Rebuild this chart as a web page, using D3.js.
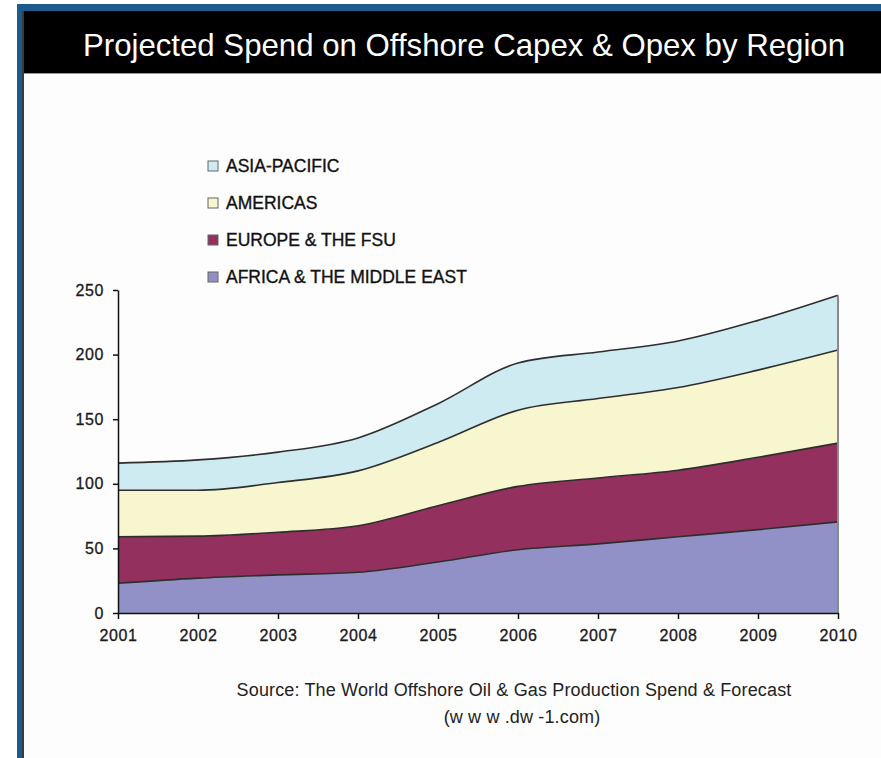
<!DOCTYPE html>
<html>
<head>
<meta charset="utf-8">
<script src="https://cdn.jsdelivr.net/npm/d3@7"></script>
<style>
  html, body { margin: 0; padding: 0; background: #ffffff; }
  svg { display: block; }
</style>
</head>
<body>
<div id="chart"></div>
<script>
// Years on the horizontal axis
const years = [2001, 2002, 2003, 2004, 2005, 2006, 2007, 2008, 2009, 2010];

// Spend per region (stacked bottom to top)
const africaMiddleEast = [23, 27, 29.5, 31.5, 39.5, 49, 53.5, 59, 64.5, 70.5];
const europeFsu        = [36, 32.5, 33, 36, 43.5, 49, 51, 51.5, 56, 61];
const americas         = [36, 35.5, 38.5, 42.5, 49, 59, 61.5, 64, 67.5, 72];
const asiaPacific      = [21, 23.5, 23.5, 25.5, 30, 36.5, 36, 36, 38.5, 42.5];

const seriesNames  = ["AFRICA & THE MIDDLE EAST", "EUROPE & THE FSU", "AMERICAS", "ASIA-PACIFIC"];
const seriesValues = [africaMiddleEast, europeFsu, americas, asiaPacific];
const seriesColors = ["#9191c7", "#93305d", "#f8f6cf", "#cdebf1"];

const yTicks = [0, 50, 100, 150, 200, 250];

const titleText   = "Projected Spend on Offshore Capex & Opex by Region";
const sourceLine1 = "Source: The World Offshore Oil & Gas Production Spend & Forecast";
const sourceLine2 = "(w w w .dw -1.com)";

const W = 881, H = 758;
const svg = d3.select("#chart").append("svg").attr("width", W).attr("height", H);

// Frame: blue border, black title band, white panel
svg.append("rect").attr("x", 17).attr("y", 4).attr("width", W - 17).attr("height", H - 4).attr("fill", "#1d5b8c");
svg.append("rect").attr("x", 22).attr("y", 11).attr("width", W - 22).attr("height", H - 11).attr("fill", "#3a3a3a");
svg.append("rect").attr("x", 24).attr("y", 11).attr("width", W - 24).attr("height", 62).attr("fill", "#000000");
svg.append("rect").attr("x", 24).attr("y", 73).attr("width", W - 24).attr("height", 1).attr("fill", "#9a9a9a");
svg.append("rect").attr("x", 24).attr("y", 74).attr("width", W - 24).attr("height", H - 74).attr("fill", "#fdfdfd");

svg.append("text")
  .attr("x", 83).attr("y", 56)
  .attr("fill", "#ffffff")
  .style("font-family", "'Liberation Sans', Arial, sans-serif")
  .style("font-size", "32px")
  .attr("textLength", 762)
  .attr("lengthAdjust", "spacingAndGlyphs")
  .text(titleText);

// Plot scales
const x = d3.scaleLinear().domain([2001, 2010]).range([118, 838]);
const y = d3.scaleLinear().domain([0, 250]).range([613, 290]);

const table = years.map((yr, i) => {
  const row = { year: yr };
  seriesNames.forEach((n, k) => { row[n] = seriesValues[k][i]; });
  return row;
});
const stacked = d3.stack().keys(seriesNames)(table);

const curve = d3.curveMonotoneX;
const area = d3.area()
  .x(d => x(d.data.year))
  .y0(d => y(d[0]))
  .y1(d => y(d[1]))
  .curve(curve);
const topLine = d3.line()
  .x(d => x(d.data.year))
  .y(d => y(d[1]))
  .curve(curve);

const plot = svg.append("g");
plot.selectAll("path.layer").data(stacked).join("path")
  .attr("class", "layer")
  .attr("d", area)
  .attr("fill", (d, i) => seriesColors[i]);

plot.selectAll("path.edge").data(stacked).join("path")
  .attr("class", "edge")
  .attr("d", topLine)
  .attr("fill", "none")
  .attr("stroke", "#2e2e2e")
  .attr("stroke-width", 1.6);

// Right-hand edge of the stack
const last = stacked[stacked.length - 1][years.length - 1];
plot.append("line")
  .attr("x1", x(2010)).attr("x2", x(2010))
  .attr("y1", y(last[1])).attr("y2", y(0))
  .attr("stroke", "#8a8a8a").attr("stroke-width", 2);

// Axes
const fontAxis = "'Liberation Sans', Arial, sans-serif";
const yAxis = svg.append("g")
  .attr("transform", `translate(${x(2001)},0)`)
  .call(d3.axisLeft(y).tickValues(yTicks).tickSize(5).tickPadding(9).tickSizeOuter(0));
const xAxis = svg.append("g")
  .attr("transform", `translate(0,${y(0)})`)
  .call(d3.axisBottom(x).tickValues(years).tickFormat(d3.format("d")).tickSize(6).tickPadding(11).tickSizeOuter(0));

[yAxis, xAxis].forEach(g => {
  g.select(".domain").attr("stroke", "#111").attr("stroke-width", 1.5);
  g.selectAll(".tick line").attr("stroke", "#111").attr("stroke-width", 1.5);
  g.selectAll(".tick text")
    .attr("fill", "#1a1a1a")
    .attr("stroke", "#1a1a1a")
    .attr("stroke-width", 0.3)
    .style("font-family", fontAxis)
    .style("font-size", "16px")
    .style("letter-spacing", "0.6px");
});

// Legend (top to bottom: Asia-Pacific first)
const legendOrder = [3, 2, 1, 0];
const legend = svg.append("g");
legendOrder.forEach((k, i) => {
  const cy = 166 + i * 37;
  legend.append("rect")
    .attr("x", 208).attr("y", cy - 5)
    .attr("width", 10).attr("height", 10)
    .attr("fill", seriesColors[k])
    .attr("stroke", "#666").attr("stroke-width", 1);
  legend.append("text")
    .attr("x", 226).attr("y", cy + 6)
    .attr("fill", "#111")
    .attr("stroke", "#111")
    .attr("stroke-width", 0.35)
    .style("font-family", fontAxis)
    .style("font-size", "17.5px")
    .style("letter-spacing", "0px")
    .text(seriesNames[k]);
});

// Source note
const src = svg.append("g")
  .style("font-family", fontAxis)
  .style("font-size", "18px")
  .style("letter-spacing", "0.15px")
  .attr("fill", "#222");
src.append("text").attr("x", 514).attr("y", 696).attr("text-anchor", "middle").text(sourceLine1);
src.append("text").attr("x", 522).attr("y", 723).attr("text-anchor", "middle").text(sourceLine2);
</script>
</body>
</html>
